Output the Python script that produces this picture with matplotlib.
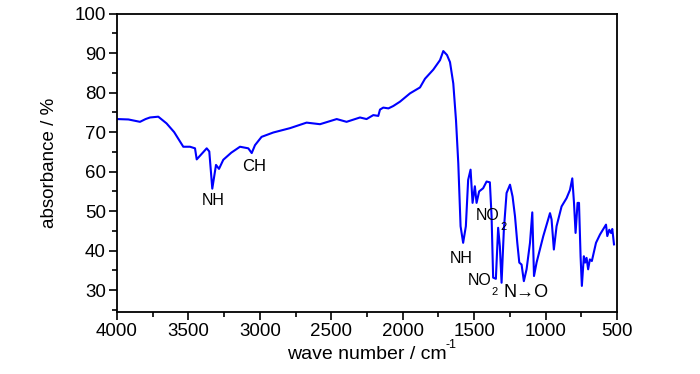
import matplotlib
matplotlib.use("Agg")
import matplotlib.pyplot as plt
from matplotlib.ticker import MultipleLocator

plt.rcParams['font.family'] = ['Liberation Sans', 'DejaVu Sans']

# IR spectrum (wave number in cm-1, absorbance in %)
wavenumber = [4000, 3920, 3839, 3800, 3769, 3711, 3653, 3600, 3536, 3489,
              3454, 3442, 3372, 3354, 3333, 3307, 3286, 3256, 3200, 3139,
              3081, 3057, 3034, 2988, 2906, 2789, 2673, 2579, 2462, 2393,
              2299, 2253, 2206, 2171, 2159, 2136, 2100, 2066, 2019, 1949,
              1879, 1844, 1786, 1739, 1716, 1690, 1669, 1646, 1627, 1611,
              1595, 1577, 1558, 1542, 1525, 1511, 1495, 1483, 1465, 1437,
              1413, 1390, 1378, 1367, 1348, 1332, 1320, 1308, 1292, 1273,
              1249, 1231, 1214, 1198, 1184, 1168, 1152, 1133, 1109, 1093,
              1081, 1063, 1016, 969, 958, 942, 923, 888, 853, 829,
              813, 801, 790, 776, 766, 755, 746, 732, 723, 713,
              702, 690, 676, 647, 619, 577, 568, 554, 542, 533, 521]
absorbance = [73.3, 73.2, 72.6, 73.3, 73.7, 73.9, 72.2, 70.0, 66.3, 66.3,
              65.9, 63.1, 65.9, 65.1, 55.7, 61.7, 60.7, 63.0, 64.8, 66.3,
              65.9, 64.7, 66.7, 68.8, 69.9, 71.0, 72.4, 72.0, 73.3, 72.6,
              73.7, 73.3, 74.3, 74.1, 75.7, 76.2, 76.0, 76.6, 77.7, 79.8,
              81.3, 83.5, 85.8, 88.2, 90.5, 89.5, 87.7, 82.3, 73.0, 62.1,
              46.2, 42.0, 46.2, 57.9, 60.5, 52.1, 56.3, 52.1, 55.0, 55.8,
              57.5, 57.3, 48.7, 33.2, 32.9, 45.8, 41.1, 31.9, 45.3, 54.6,
              56.7, 53.7, 48.7, 42.0, 37.0, 36.5, 32.3, 35.3, 42.0, 49.7,
              33.6, 37.0, 43.7, 49.5, 47.9, 40.3, 46.2, 51.2, 53.3, 55.4,
              58.3, 52.1, 44.5, 52.1, 52.1, 38.6, 31.1, 38.6, 37.0, 38.2,
              35.3, 37.8, 37.4, 42.0, 44.1, 46.6, 43.7, 45.3, 44.5, 45.5, 41.6]

fig = plt.figure(figsize=(7.0, 3.74), dpi=100)
ax = fig.add_axes([117/700, 62/374, 500/700, 298.5/374])

ax.plot(wavenumber, absorbance, color='#0000ff', lw=1.5)

ax.set_xlim(4000, 500)
ax.set_ylim(24.5, 100)
ax.xaxis.set_major_locator(MultipleLocator(500))
ax.xaxis.set_minor_locator(MultipleLocator(250))
ax.yaxis.set_major_locator(MultipleLocator(10))
ax.yaxis.set_minor_locator(MultipleLocator(5))
ax.set_yticks(range(30, 101, 10))
ax.tick_params(which='major', direction='out', length=6, width=1.2,
               labelsize=13.5, pad=2, colors='black')
ax.tick_params(which='minor', direction='out', length=3.5, width=1.2)
for s in ax.spines.values():
    s.set_linewidth(1.3)

ax.set_ylabel("absorbance / %", fontsize=13.5, labelpad=12)
ax.set_xlabel("wave number / cm", fontsize=14, labelpad=4)
fig.text(451/700, 1 - 345/374, "-1", fontsize=9, ha='center', va='center')

# peak labels
ax.text(3330, 52.7, "NH", fontsize=11.5, ha='center', va='center')
ax.text(3040, 61.2, "CH", fontsize=12, ha='center', va='center')
ax.text(1590, 38.0, "NH", fontsize=11.5, ha='center', va='center')
ax.text(1405, 48.9, "NO", fontsize=11.5, ha='center', va='center')
ax.text(1293, 46.0, "2", fontsize=8, ha='center', va='center')
ax.text(1459, 32.5, "NO", fontsize=11.5, ha='center', va='center')
ax.text(1354, 29.5, "2", fontsize=8, ha='center', va='center')
ax.text(1140, 29.5, "N\u2192O", fontsize=13, ha='center', va='center')

fig.savefig("out.png", dpi=100)
